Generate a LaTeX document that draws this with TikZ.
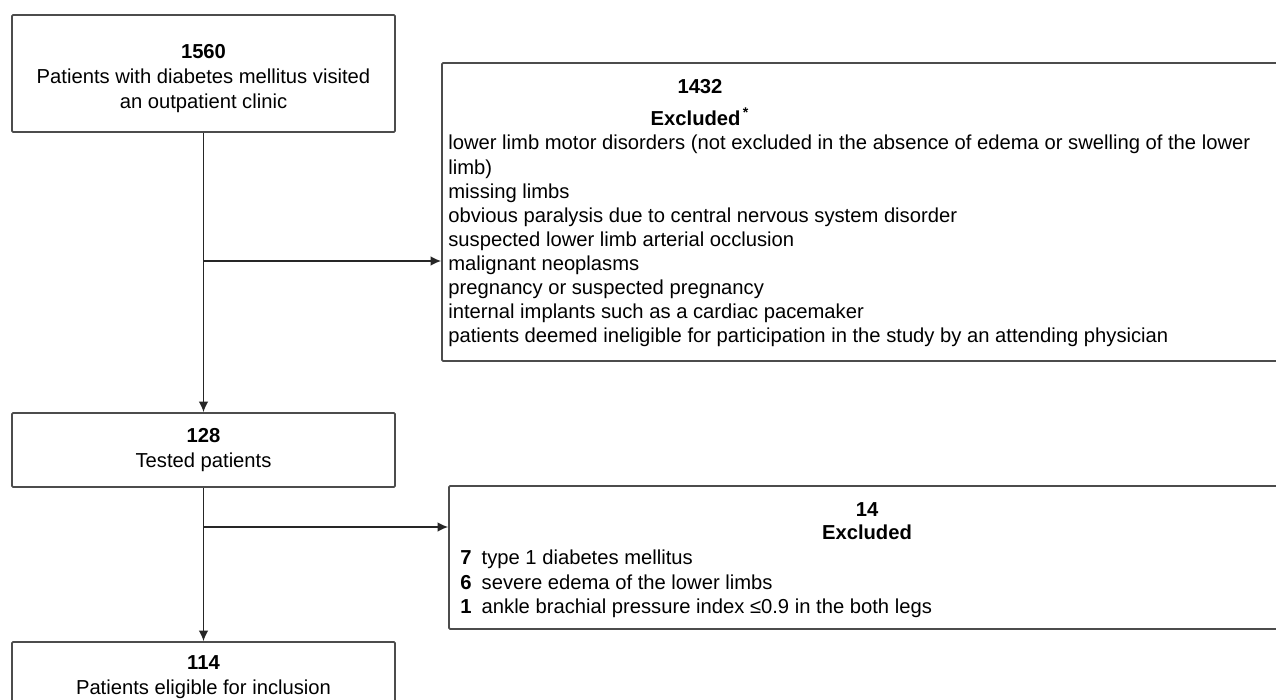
\documentclass[tikz,border=0pt]{standalone}
\usepackage{fontspec}
\setmainfont{Liberation Sans}
\usetikzlibrary{arrows.meta}

\begin{document}
\begin{tikzpicture}[x=0.02cm, y=-0.02cm,
  every node/.style={font=\fontsize{11.5}{14.2}\selectfont},
  box/.style={draw=black!70, line width=1pt, rounded corners=0.6pt, inner sep=0pt, align=center},
  arr/.style={draw=black!85, line width=0.9pt, -{Latex[length=6pt,width=5.5pt]}},
  head/.style={font=\fontsize{11.5}{13}\selectfont\bfseries},
  list/.style={anchor=north west, align=left, inner sep=0pt, font=\fontsize{11.5}{13.7}\selectfont}]
\clip (0,0) rectangle (1276,700);
\fill[white] (0,0) rectangle (1276,700);
\node[box, minimum width=383*0.02cm, minimum height=117*0.02cm] (visit) at (203.5,73.5)
  {\rule{0pt}{14pt}\textbf{1560}\\Patients with diabetes mellitus visited\\an outpatient clinic};
\node[box, minimum width=383*0.02cm, minimum height=74*0.02cm] (tested) at (203.5,450)
  {\textbf{128}\\Tested patients};
\node[box, minimum width=383*0.02cm, minimum height=70*0.02cm] (eligible) at (203.5,677)
  {\textbf{114}\\Patients eligible for inclusion};
\node[box, minimum width=880*0.02cm, minimum height=298*0.02cm] (exone) at (882,212) {};
\node[box, minimum width=870*0.02cm, minimum height=143*0.02cm] (extwo) at (884,557.5) {};
\node[head] (exonenum) at (700,87) {1432};
\node[head] (exonetitle) at (700,117) {Excluded\textsuperscript{\,*}};
\node[list] (exonelist) at (448,135) {lower limb motor disorders (not excluded in the absence of edema or swelling of the lower\\
  limb)\\
  missing limbs\\
  obvious paralysis due to central nervous system disorder\\
  suspected lower limb arterial occlusion\\
  malignant neoplasms\\
  pregnancy or suspected pregnancy\\
  internal implants such as a cardiac pacemaker\\
  patients deemed ineligible for participation in the study by an attending physician};
\node[head] (extwonum) at (867,510) {14};
\node[head] (extwotitle) at (867,532) {Excluded};
\node[list] (extwolist) at (460,550) {\textbf{7}\enspace type 1 diabetes mellitus\\
  \textbf{6}\enspace severe edema of the lower limbs\\
  \textbf{1}\enspace ankle brachial pressure index ≤0.9 in the both legs};
\coordinate (brone) at (203.5,261);
\coordinate (brtwo) at (203.5,527);
\draw[arr] (visit.south) -- (tested.north);
\draw[arr] (tested.south) -- (eligible.north);
\draw[arr] (brone) -- (brone -| exone.west);
\draw[arr] (brtwo) -- (brtwo -| extwo.west);
\end{tikzpicture}
\end{document}
